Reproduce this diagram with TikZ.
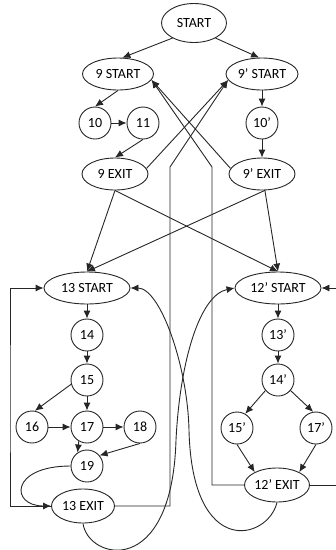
\documentclass[tikz,border=0pt]{standalone}
\usepackage{fontspec}
\setmainfont{Carlito}
\usetikzlibrary{shapes.geometric,arrows.meta}

\begin{document}
\begin{tikzpicture}[x=1pt,y=-1pt,line width=0.9pt,color=black!85,>={Latex[length=8pt,width=7pt]},
    ell/.style={ellipse,draw,text=black,inner sep=0pt,minimum height=32pt,font=\fontsize{14}{16}\selectfont},
    cir/.style={circle,draw,text=black,inner sep=0pt,minimum size=32pt,font=\fontsize{14}{16}\selectfont}]
      \useasboundingbox (0,0) rectangle (336,550);
      \clip (0,0) rectangle (336,550);

       %draw entry and exit nodes
      \node[ell,minimum width=65pt,minimum height=39pt] (start) at (194,23) {START};
      \node[ell,minimum width=71pt] (s9) at (118,74) {9 START};
      \node[ell,minimum width=72pt] (s9p) at (262,74) {9’ START};
      \node[ell,minimum width=66pt] (e9) at (115,174) {9 EXIT};
      \node[ell,minimum width=66pt] (e9p) at (262,174) {9’ EXIT};
      \node[ell,minimum width=86pt] (s13) at (87,288) {13 START};
      \node[ell,minimum width=86pt] (s12p) at (278,288) {12’ START};
      \node[ell,minimum width=63pt,minimum height=34pt] (e13) at (83,506) {13 EXIT};
      \node[ell,minimum width=65pt,minimum height=34pt] (e12p) at (277,485) {12’ EXIT};

       %draw statement nodes
      \foreach \n/\x/\y/\t in {n10/95/123/10, n11/143/123/11, n10p/262/123/10’,
          n14/87/335/14, n15/87/380/15, n16/32/427/16, n17/87/427/17,
          n18/140/427/18, n19/87/466/19, n13p/278/335/13’, n14p/278/380/14’,
          n15p/237/428/15’, n17p/316/428/17’} {%
        \node[cir] (\n) at (\x,\y) {\t};
      }

       %corners of the long return lines
      \coordinate (up1) at (170,167);
      \coordinate (up2) at (212,167);
      \coordinate (loopL) at (10,400);
      \coordinate (loopR) at (350,400);

       %draw straight edges
      \foreach \a/\b in {start.215/s9.75, start.-35/s9p.100, s9.south/n10.north,
          n10/n11, n11.south/e9.north, s9p/n10p, n10p/e9p,
          e9.10/s9p.190, e9p.170/s9.-10,
          e9.south/s13.north, e9.south/s12p.north, e9p.-80/s13.north, e9p.-80/s12p.north,
          s13/n14, n14/n15, n15.195/n16.80, n15/n17, n16/n17, n17/n18,
          n17.240/n19.125, n18.south/n19.40,
          s12p/n13p, n13p/n14p, n14p.220/n15p.60, n14p.-40/n17p.100,
          n15p.south/e12p.150, n17p.south/e12p.30} {%
        \draw[->] (\a) -- (\b);
      }

       %draw return lines
      \draw[->] (e13.east) -| (up1) -- (s9p.190);
      \draw[->] (e12p.west) -| (up2) -- (s9.-10);
      \draw[->] (e13.west) -| (loopL) |- (s13.west);
      \draw[->] (e12p.east) -| (loopR) |- (s12p.east);

       %draw curved edges
      \draw[->] (n19.west) .. controls (10,466) and (10,506) .. (e13.west);
      \draw[->] (e13.south) .. controls (88,560) and (172,580) .. (176,440)
          .. controls (180,360) and (200,295) .. (s12p.west);
      \draw[->] (e12p.south) .. controls (268,540) and (192,560) .. (189,430)
          .. controls (187.5,365) and (160,288) .. (s13.east);
    \end{tikzpicture}
\end{document}
